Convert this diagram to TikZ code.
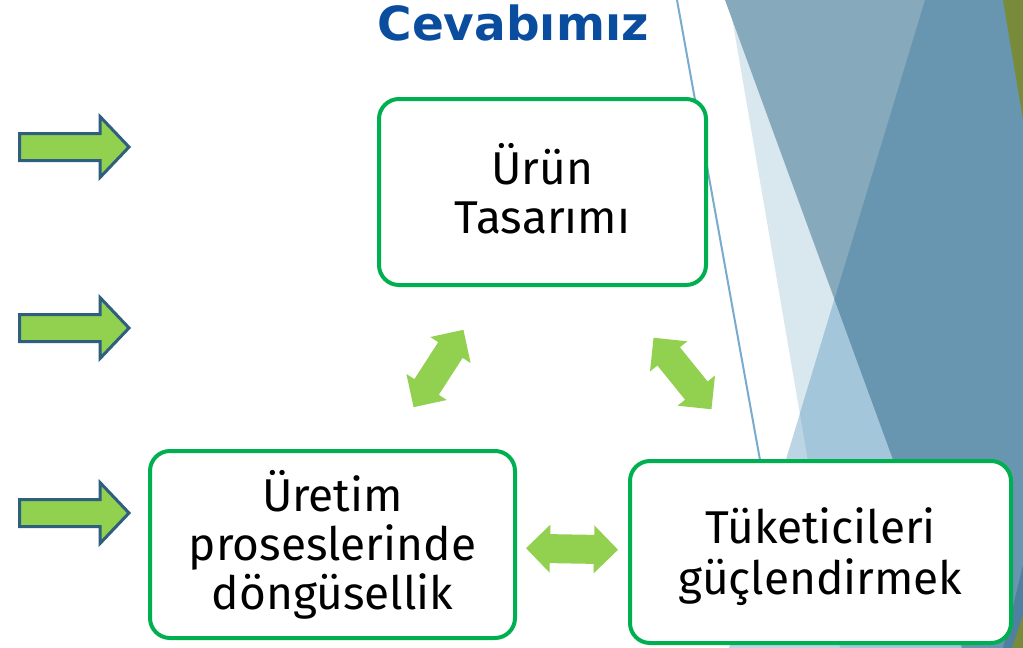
\documentclass[tikz,border=0pt]{standalone}
\usepackage{fontspec}
\setmainfont{Fira Sans}
\newfontfamily\titlefont{DejaVu Sans}
\usetikzlibrary{positioning}
\definecolor{boxgreen}{HTML}{00B050}
\definecolor{arrgreen}{HTML}{92D050}
\definecolor{arredge}{HTML}{2F5F7F}
\definecolor{titleblue}{HTML}{0A4D9F}
\definecolor{thinline}{HTML}{78ABCD}
\definecolor{conly}{HTML}{D9E7EF}
\definecolor{aonly}{HTML}{87A9BC}
\definecolor{bonly}{HTML}{BCD5E4}
\definecolor{bc}{HTML}{A4C6DA}
\definecolor{ab}{HTML}{6896B0}
\definecolor{olive}{HTML}{788B3A}
\definecolor{deepblue}{HTML}{4F80A0}
\tikzset{
  box/.style={draw=boxgreen, line width=4pt, rounded corners=20pt, fill=white,
    inner sep=0pt, align=center, font=\fontsize{46}{49}\selectfont},
  dblarrow/.style={fill=arrgreen},
  sidearrow/.style={fill=arrgreen, draw=arredge, line width=3pt, line join=miter},
}
\begin{document}
\begin{tikzpicture}[x=1pt,y=-1pt]
\useasboundingbox (0,0) rectangle (1023,648);
\fill[white] (0,0) rectangle (1023,648);
\begin{scope}
\clip (0,0) rectangle (1023,648);
% background facets
\fill[conly] (729,0) -- (1023,0) -- (1023,648) -- (840,648) -- cycle;
\fill[bonly] (925,0) -- (1023,0) -- (1023,648) -- (729,648) -- cycle;
\begin{scope}
  \clip (729,0) -- (1023,0) -- (1023,648) -- (840,648) -- cycle;
  \fill[bc] (925,0) -- (1023,0) -- (1023,648) -- (729,648) -- cycle;
\end{scope}
\fill[aonly] (725,0) -- (1023,0) -- (1023,648) -- (962,648) -- cycle;
\begin{scope}
  \clip (725,0) -- (1023,0) -- (1023,648) -- (962,648) -- cycle;
  \fill[ab] (925,0) -- (1023,0) -- (1023,648) -- (729,648) -- cycle;
\end{scope}
\fill[olive] (1003,0) -- (1023,0) -- (1023,120) -- cycle;
\fill[deepblue] (1023,565) -- (1023,648) -- (1003,648) -- cycle;
\fill[olive] (1023,615) -- (1023,648) -- (1012,648) -- cycle;
\draw[thinline, line width=2pt] (677,0) -- (760,460);
\end{scope}

% title
\node[font=\titlefont\bfseries\fontsize{47}{50}\selectfont, text=titleblue, anchor=base, inner sep=0pt] (title) at (513,40) {Cevabımız};

% side arrows
\foreach \yy/\nm in {147/a1, 328/a2, 513/a3}{
  \draw[sidearrow] (19.5,\yy-13.5) -- (100,\yy-13.5) -- (100,\yy-30.5) -- (129,\yy) -- (100,\yy+30.5) -- (100,\yy+13.5) -- (19.5,\yy+13.5) -- cycle;
}

% boxes
\node[box, minimum width=327pt, minimum height=186pt, text depth=8pt] (b1) at (542.5,192) {Ürün\\Tasarımı};
\node[box, minimum width=365pt, minimum height=187pt] (b2) at (332.5,544.5) {Üretim\\proseslerinde\\döngüsellik};
\node[box, minimum width=381pt, minimum height=182pt, text depth=2pt, font=\fontsize{46}{51}\selectfont] (b3) at (820.5,552) {Tüketicileri\\güçlendirmek};

% double arrows
\coordinate (d12) at (438.5,368.5);
\coordinate (d13) at (682.5,373.5);
\coordinate (d23) at (572,549);
\foreach \c/\ang in {d12/57.2, d13/-51, d23/-1}{
  \begin{scope}[shift={(\c)}, rotate=\ang]
    \fill[dblarrow] (-46,0) -- (-22,24) -- (-22,14.5) -- (22,14.5) -- (22,24) -- (46,0) -- (22,-24) -- (22,-14.5) -- (-22,-14.5) -- (-22,-24) -- cycle;
  \end{scope}
}
\end{tikzpicture}
\end{document}
